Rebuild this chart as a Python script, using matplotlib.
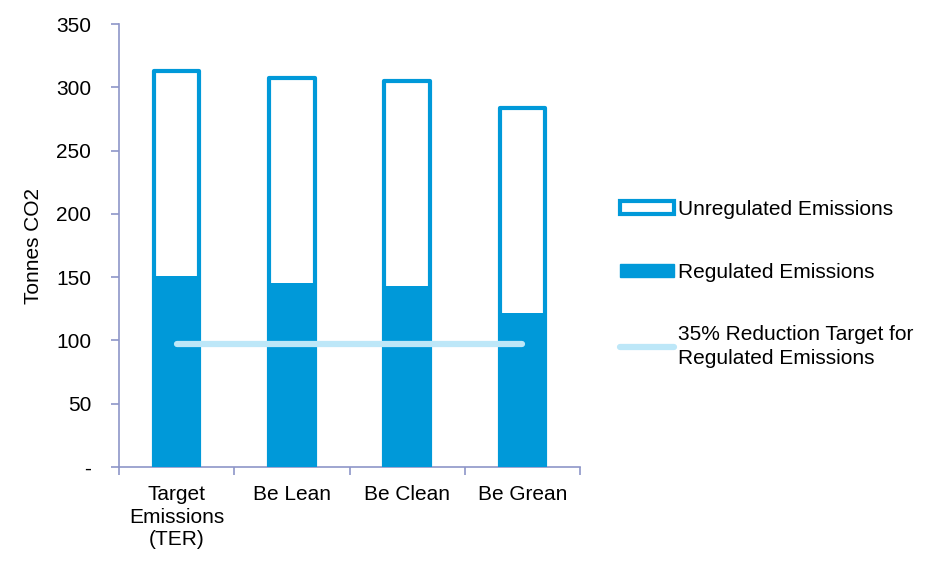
import matplotlib
matplotlib.use("Agg")
import matplotlib.pyplot as plt
from matplotlib.patches import Patch
from matplotlib.lines import Line2D
import numpy as np

plt.rcParams['font.family'] = ['Liberation Sans', 'DejaVu Sans']

categories = ["Target\nEmissions\n(TER)", "Be Lean", "Be Clean", "Be Grean"]
regulated = [151, 145, 143, 122]
unregulated = [162, 162, 162, 162]
target = 97.5
yticks = [0, 50, 100, 150, 200, 250, 300, 350]
ytick_labels = ["-", "50", "100", "150", "200", "250", "300", "350"]

blue = "#0099D9"
light = "#BDE7F8"
axis_col = "#8E96C8"
fs = 15

fig = plt.figure(figsize=(9.39, 5.62), dpi=100)
ax_left, ax_right = 119 / 939, 580 / 939
ax = fig.add_axes([ax_left, 1 - 467 / 562, ax_right - ax_left, (467 - 24) / 562])

x = np.arange(len(categories))
w = 0.43
lw = 3.0
totals = [r + u for r, u in zip(regulated, unregulated)]
# outline stroke sits inside the bar footprint
px_per_unit = (580 - 119) / len(categories)
inset = (lw * 100 / 72) / px_per_unit
ax.bar(x, totals, width=w - inset, facecolor="white", edgecolor=blue,
       linewidth=lw, joinstyle="round", zorder=2)
ax.bar(x, regulated, width=w, color=blue, edgecolor="none", zorder=3)
ax.plot([x[0], x[-1]], [target, target], color=light, linewidth=4.5,
        solid_capstyle="round", zorder=4)

ax.set_xlim(-0.5, len(categories) - 0.5)
ax.set_ylim(0, 350)
ax.set_yticks(yticks)
ax.set_yticklabels(ytick_labels, fontsize=fs)
ax.set_xticks(x)
ax.set_xticklabels(categories, fontsize=fs, va="top", linespacing=1.24)
ax.set_xticks(np.arange(-0.5, len(categories)), minor=True)
ax.tick_params(axis="x", which="major", length=0, pad=13)
ax.tick_params(axis="x", which="minor", length=6, color=axis_col, width=1.2)
ax.tick_params(axis="y", length=6, color=axis_col, width=1.2, pad=14)
for s in ["top", "right"]:
    ax.spines[s].set_visible(False)
for s in ["left", "bottom"]:
    ax.spines[s].set_color(axis_col)
    ax.spines[s].set_linewidth(1.2)
ax.set_ylabel("Tonnes CO2", fontsize=fs)
ax.yaxis.set_label_coords(-0.165, 0.5)

handles = [
    Patch(facecolor="white", edgecolor=blue, linewidth=lw, joinstyle="round"),
    Patch(facecolor=blue, edgecolor=blue, linewidth=1, joinstyle="round"),
    Line2D([0], [0], color=light, linewidth=4.5, solid_capstyle="round"),
]
labels = ["Unregulated Emissions", "Regulated Emissions",
          "35% Reduction Target for\nRegulated Emissions"]
leg = fig.legend(handles, labels, loc="center left",
                 bbox_to_anchor=(601 / 939, 1 - 284 / 562), frameon=False,
                 fontsize=fs, handlelength=2.6, handleheight=0.6,
                 handletextpad=0.2, labelspacing=2.1)
leg.get_texts()[2].set_linespacing(1.3)

fig.savefig("out.png", dpi=100)
